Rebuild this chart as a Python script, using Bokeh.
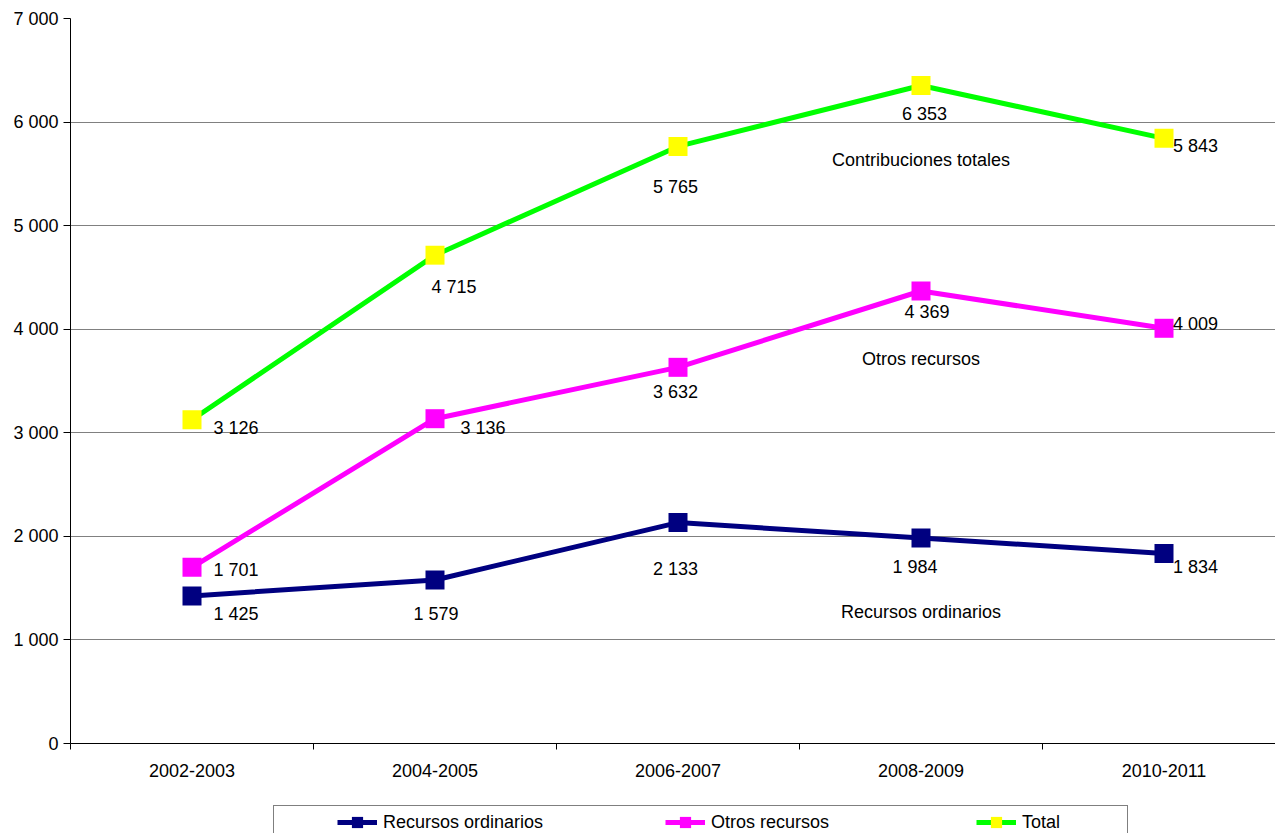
from bokeh.plotting import figure
from bokeh.models import Range1d, FixedTicker, Legend, LegendItem
from bokeh.layouts import column
from bokeh.core.properties import value
from bokeh.embed import file_html
from bokeh.resources import INLINE

# ---------------- data ----------------
categories = ["2002-2003", "2004-2005", "2006-2007", "2008-2009", "2010-2011"]
recursos_ordinarios = [1425, 1579, 2133, 1984, 1834]
otros_recursos = [1701, 3136, 3632, 4369, 4009]
total = [3126, 4715, 5765, 6353, 5843]
series_names = ["Recursos ordinarios", "Otros recursos", "Total"]

y_ticks = [0, 1000, 2000, 3000, 4000, 5000, 6000, 7000]
y_tick_labels = ["0", "1 000", "2 000", "3 000", "4 000", "5 000", "6 000", "7 000"]

# in-plot captions (placed over the 2008-2009 category)
caption_texts = ["Contribuciones totales", "Otros recursos", "Recursos ordinarios"]
caption_levels = [5630, 3717, 1274]
caption_category = 3

# ---------------- styles ----------------
FONT = "Liberation Sans"
FS = "18px"
NAVY = "#000080"
MAGENTA = "#FF00FF"
GREEN = "#00FF00"
YELLOW = "#FFFF00"

# data-label pixel offsets (text left edge / vertical middle relative to point)
ro_dx = [21.5, -21.5, -25.0, -28.5, 9.0]
ro_dy = [18.0, 34.0, 46.5, 29.0, 13.5]
or_dx = [21.5, 25.5, -25.0, -16.5, 9.0]
or_dy = [2.5, 9.5, 25.0, 21.5, -4.5]
tt_dx = [21.5, -3.5, -25.0, -19.0, 9.0]
tt_dy = [8.5, 31.5, 40.5, 28.5, 8.0]


def fmt(v):
    return f"{v:,}".replace(",", " ")


n = len(categories)
xs = [i + 0.5 for i in range(n)]

p = figure(width=1275, height=790,
           x_range=Range1d(0, 1205 / 243), y_range=Range1d(0, 7000),
           output_backend="svg", toolbar_location=None,
           min_border_left=70, min_border_right=0,
           min_border_top=18, min_border_bottom=47)
p.outline_line_color = None
p.background_fill_color = "white"

# ---------------- axes ----------------
p.xaxis.ticker = FixedTicker(ticks=xs, minor_ticks=list(range(n + 1)))
p.xaxis.major_label_overrides = {x: c for x, c in zip(xs, categories)}
p.xaxis.major_tick_out = 0
p.xaxis.major_tick_in = 0
p.xaxis.minor_tick_out = 6
p.xaxis.minor_tick_in = 0
p.xaxis.major_label_standoff = 14

p.yaxis.ticker = FixedTicker(ticks=y_ticks, minor_ticks=[])
p.yaxis.major_label_overrides = {t: l for t, l in zip(y_ticks, y_tick_labels)}
p.yaxis.major_tick_out = 7
p.yaxis.major_tick_in = 0
p.yaxis.major_label_standoff = 5

for ax in (p.xaxis, p.yaxis):
    ax.axis_line_color = "black"
    ax.axis_line_width = 1
    ax.major_tick_line_color = "black"
    ax.minor_tick_line_color = "black"
    ax.major_label_text_font = FONT
    ax.major_label_text_font_size = FS
    ax.major_label_text_color = "black"

p.xgrid.visible = False
p.ygrid.grid_line_color = "#808080"
p.ygrid.grid_line_width = 1

# ---------------- series ----------------
line_colors = [NAVY, MAGENTA, GREEN]
marker_colors = [NAVY, MAGENTA, YELLOW]
series_values = [recursos_ordinarios, otros_recursos, total]
offsets = [(ro_dx, ro_dy), (or_dx, or_dy), (tt_dx, tt_dy)]

for vals, lc, mc in zip(series_values, line_colors, marker_colors):
    p.line(xs, vals, line_color=lc, line_width=5)
    p.scatter(xs, vals, marker="square", size=19, fill_color=mc, line_color=None)

for vals, (dx, dy) in zip(series_values, offsets):
    p.text(x=xs, y=vals, text=[fmt(v) for v in vals],
           x_offset=dx, y_offset=dy,
           text_font=value(FONT), text_font_size=FS, text_color="black",
           text_align="left", text_baseline="middle")

p.text(x=[xs[caption_category]] * len(caption_texts), y=caption_levels,
       text=caption_texts, text_font=value(FONT), text_font_size=FS,
       text_color="black", text_align="center", text_baseline="middle")

# ---------------- legend strip (separate figure below the chart) ----------------
# the strip's ranges exclude the series, so its copies of them stay out of view
lg = figure(width=1275, height=43, x_range=Range1d(0, 1), y_range=Range1d(-2, -1),
            output_backend="svg", toolbar_location=None, min_border=0,
            x_axis_type=None, y_axis_type=None)
lg.outline_line_color = None
lg.grid.visible = False

legend_rends = []
for vals, lc, mc in zip(series_values, line_colors, marker_colors):
    rl = lg.line(x=xs, y=vals, line_color=lc, line_width=5)
    rs = lg.scatter(x=xs, y=vals, marker="square", fill_color=mc, line_color=None)
    legend_rends.append([rl, rs])

# legend-strip frame is aligned with the chart frame (left edge at 70 px)
leg_box = Legend(items=[LegendItem(label="", renderers=[legend_rends[0][0]])],
                 location=(203, -54), glyph_width=0, glyph_height=40,
                 label_height=40, label_width=813, label_standoff=0,
                 padding=20, margin=0, border_line_color="black",
                 border_line_width=1, background_fill_color="white",
                 background_fill_alpha=1.0)
lg.add_layout(leg_box)

legend_x = [267, 595, 906]
for name, lx, rends in zip(series_names, legend_x, legend_rends):
    leg = Legend(items=[LegendItem(label=name, renderers=rends)],
                 location=(lx, -3), glyph_width=40, glyph_height=28,
                 label_height=28, label_standoff=6, padding=0, margin=0,
                 border_line_color=None, background_fill_alpha=0.0,
                 label_text_font=FONT, label_text_font_size=FS,
                 label_text_color="black")
    lg.add_layout(leg)

open("out.html", "w").write(file_html(column(p, lg), INLINE))
